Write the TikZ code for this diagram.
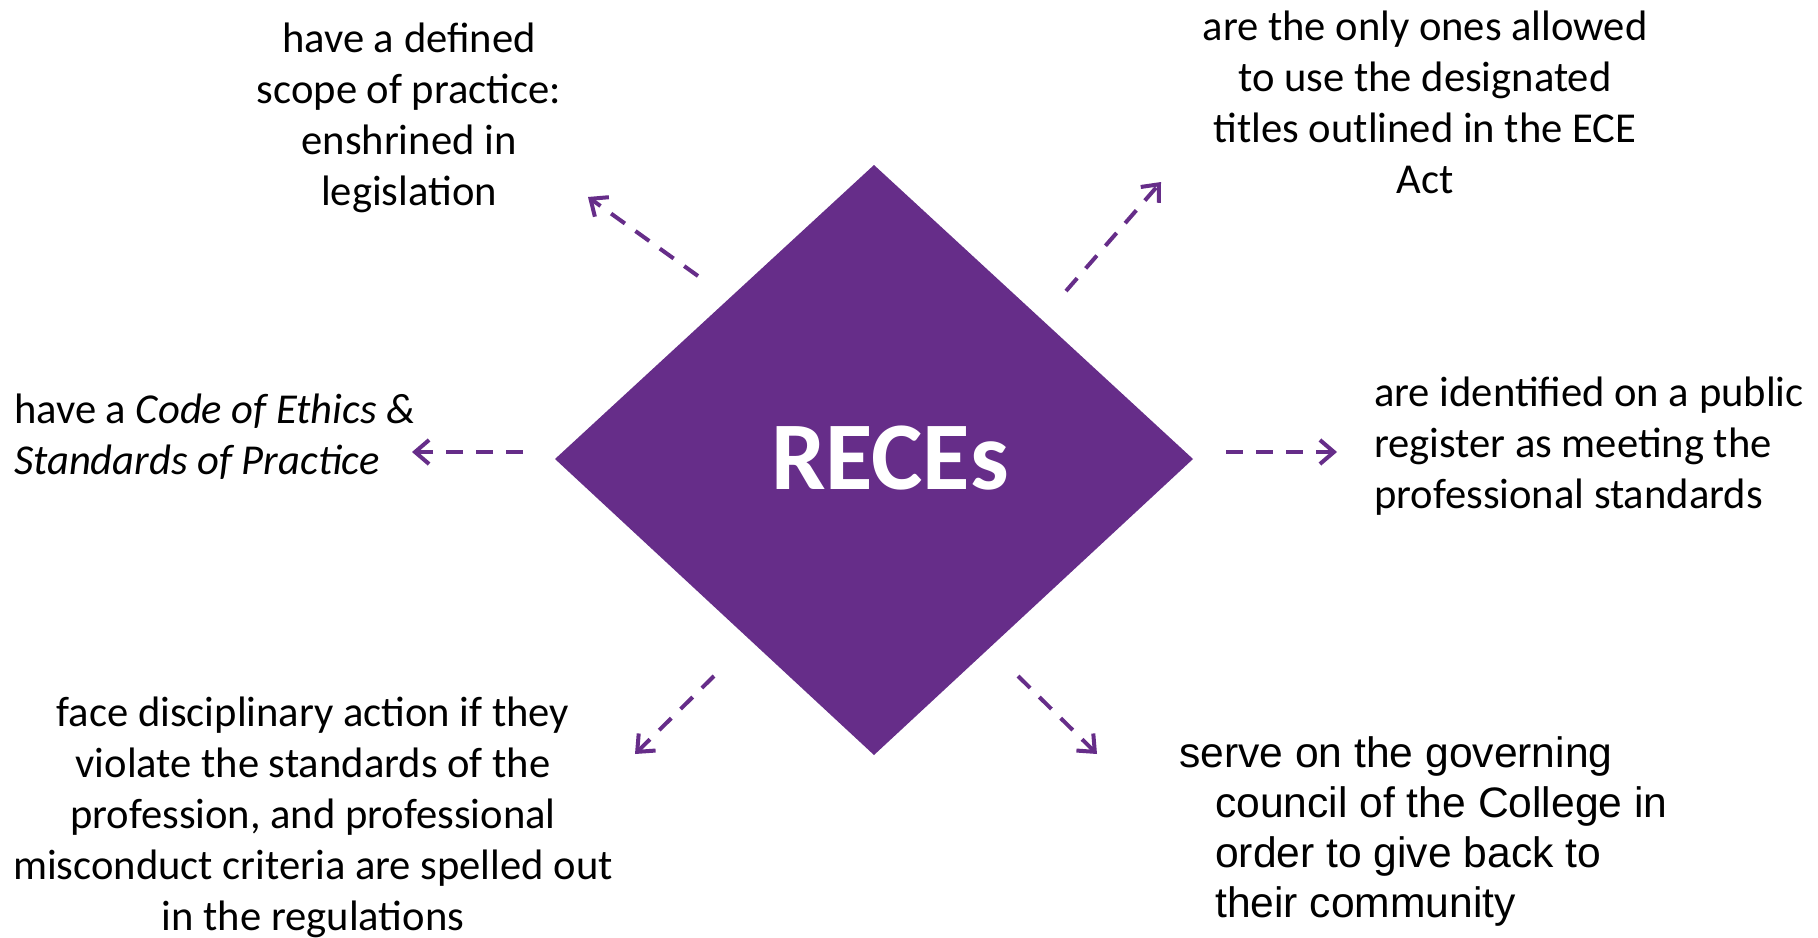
\documentclass[tikz,border=0pt]{standalone}
\usepackage{fontspec}
\setmainfont{Carlito}
\newfontfamily\arialfont{Liberation Sans}
\usetikzlibrary{arrows.meta}
\definecolor{recepurple}{RGB}{102,45,137}
\tikzset{
  lbl/.style={inner sep=0pt, font=\fontsize{42.6bp}{51bp}\selectfont, text=black},
  conn/.style={draw=recepurple, line width=4bp, dash pattern=on 17bp off 13bp,
    -{Straight Barb[length=14bp,width=24bp,line width=4bp]}},
}
\begin{document}
\begin{tikzpicture}[x=1bp,y=-1bp]
\useasboundingbox (0,0) rectangle (1818,937);
\fill[white] (0,0) rectangle (1818,937);
% diamond
\fill[recepurple] (874,165) -- (1193,459) -- (874,755) -- (555,459) -- cycle;
\node[inner sep=0pt, text=white, font=\fontsize{97bp}{110bp}\selectfont\bfseries] (rec) at (890,458) {RECEs};
% coordinates for arrow ends
\coordinate (s1) at (698,276); \coordinate (t1) at (588,197);
\coordinate (s2) at (1066,291); \coordinate (t2) at (1161,182);
\coordinate (s3) at (523,452); \coordinate (t3) at (412,452);
\coordinate (s4) at (1226,452); \coordinate (t4) at (1337,452);
\coordinate (s5) at (714,676); \coordinate (t5) at (635,754);
\coordinate (s6) at (1018,676); \coordinate (t6) at (1097,754);
\draw[conn] (s1) -- (t1);
\draw[conn] (s2) -- (t2);
\draw[conn] (s3) -- (t3);
\draw[conn] (s4) -- (t4);
\draw[conn] (s5) -- (t5);
\draw[conn] (s6) -- (t6);
% labels
\node[lbl, align=center] (tl) at (409,118) {have a defined\\scope of practice:\\enshrined in\\legislation};
\node[lbl, align=center] (tr) at (1425,102) {are the only ones allowed\\to use the designated\\titles outlined in the ECE\\Act};
\node[lbl, align=left, anchor=west] (l) at (14,437) {have a \textit{Code of Ethics \&}\\\textit{Standards of Practice}};
\node[lbl, align=left, anchor=west] (r) at (1374,446) {are identified on a public\\register as meeting the\\professional standards};
\node[lbl, align=center] (bl) at (313,817) {face disciplinary action if they\\violate the standards of the\\profession, and professional\\misconduct criteria are spelled out\\in the regulations};
\node[lbl, align=left, anchor=west, font=\arialfont\fontsize{42.6bp}{50bp}\selectfont] (br) at (1179,831) {serve on the governing\\\hspace*{36bp}council of the College in\\\hspace*{36bp}order to give back to\\\hspace*{36bp}their community};
\end{tikzpicture}
\end{document}
